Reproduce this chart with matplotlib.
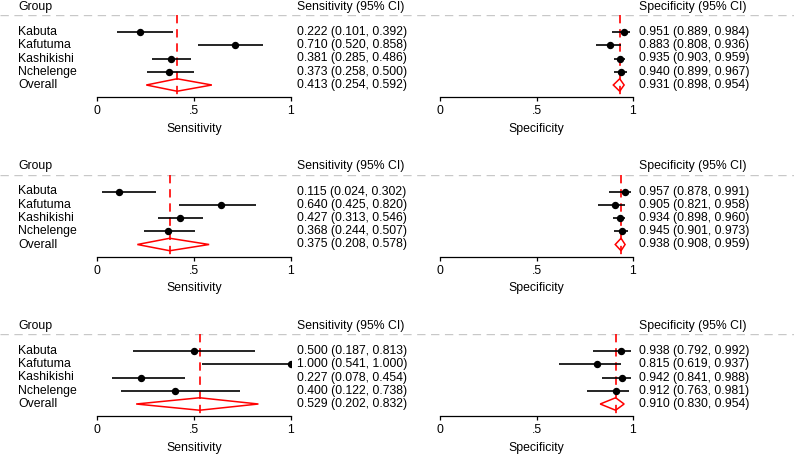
import numpy as np
import matplotlib
matplotlib.use("Agg")
import matplotlib.pyplot as plt

plt.rcParams['font.family'] = ['Liberation Sans', 'DejaVu Sans']

groups = ["Kabuta", "Kafutuma", "Kashikishi", "Nchelenge", "Overall"]

# estimate, lower, upper for each of the three panels (last row = Overall)
sens_est = [[0.222, 0.710, 0.381, 0.373, 0.413],
            [0.115, 0.640, 0.427, 0.368, 0.375],
            [0.500, 1.000, 0.227, 0.400, 0.529]]
sens_lo = [[0.101, 0.520, 0.285, 0.258, 0.254],
           [0.024, 0.425, 0.313, 0.244, 0.208],
           [0.187, 0.541, 0.078, 0.122, 0.202]]
sens_hi = [[0.392, 0.858, 0.486, 0.500, 0.592],
           [0.302, 0.820, 0.546, 0.507, 0.578],
           [0.813, 1.000, 0.454, 0.738, 0.832]]

spec_est = [[0.951, 0.883, 0.935, 0.940, 0.931],
            [0.957, 0.905, 0.934, 0.945, 0.938],
            [0.938, 0.815, 0.942, 0.912, 0.910]]
spec_lo = [[0.889, 0.808, 0.903, 0.899, 0.898],
           [0.878, 0.821, 0.898, 0.901, 0.908],
           [0.792, 0.619, 0.841, 0.763, 0.830]]
spec_hi = [[0.984, 0.936, 0.959, 0.967, 0.954],
            [0.991, 0.958, 0.960, 0.973, 0.959],
            [0.992, 0.937, 0.988, 0.981, 0.954]]

W, H = 794, 454
FS = 8.8
ROW = 13.25
fig = plt.figure(figsize=(W / 100, H / 100), dpi=100)


def px_axes(left, top, width, height):
    return fig.add_axes([left / W, 1 - (top + height) / H, width / W, height / H])


def forest(ax, est, lo, hi, label):
    n = len(est) - 1
    ax.set_xlim(0, 1)
    ax.set_ylim(y_bot, y_top)
    for i in range(n):
        ax.plot([lo[i], hi[i]], [i, i], color='black', lw=1.2, solid_capstyle='butt')
        ax.plot(est[i], i, 'o', color='black', ms=4.3)
    d = 0.47
    ax.fill([lo[n], est[n], hi[n], est[n], lo[n]],
            [n, n - d, n, n + d, n], facecolor='none', edgecolor='red', lw=1.1)
    ax.plot([est[n], est[n]], [y_top, y_bot], color='red', lw=1.2,
            dashes=(5, 3.5), zorder=0)
    for s in ['top', 'right', 'left']:
        ax.spines[s].set_visible(False)
    ax.spines['bottom'].set_linewidth(0.9)
    ax.set_yticks([])
    ax.set_xticks([0, 0.5, 1])
    ax.set_xticklabels(["0", ".5", "1"], fontsize=FS)
    ax.tick_params(axis='x', length=3, width=0.9, pad=3)
    ax.set_xlabel(label, fontsize=FS, labelpad=4)
    ax.patch.set_alpha(0)


y_top = -17 / ROW
y_bot = 4 + 12 / ROW

for k in range(3):
    T = k * 159.5
    tab = px_axes(0, T + 15, W, 82)
    tab.set_xlim(0, W)
    tab.set_ylim(y_bot, y_top)
    tab.axis('off')
    tab.axhline(y_top, color='#c8c8c8', lw=1.0, dashes=(6, 4))
    hy = y_top - 8 / ROW
    tab.text(18, hy, "Group", fontsize=FS, va='center')
    tab.text(297, hy, "Sensitivity (95% CI)", fontsize=FS, va='center')
    tab.text(639, hy, "Specificity (95% CI)", fontsize=FS, va='center')
    for i, g in enumerate(groups):
        tab.text(18, i, g, fontsize=FS, va='center')
        tab.text(297, i, "%.3f (%.3f, %.3f)" % (sens_est[k][i], sens_lo[k][i], sens_hi[k][i]),
                 fontsize=FS, va='center')
        tab.text(639, i, "%.3f (%.3f, %.3f)" % (spec_est[k][i], spec_lo[k][i], spec_hi[k][i]),
                 fontsize=FS, va='center')

    ax1 = px_axes(97, T + 15, 194, 82)
    forest(ax1, sens_est[k], sens_lo[k], sens_hi[k], "Sensitivity")
    ax2 = px_axes(440, T + 15, 193, 82)
    forest(ax2, spec_est[k], spec_lo[k], spec_hi[k], "Specificity")

fig.savefig("out.png", dpi=100)
